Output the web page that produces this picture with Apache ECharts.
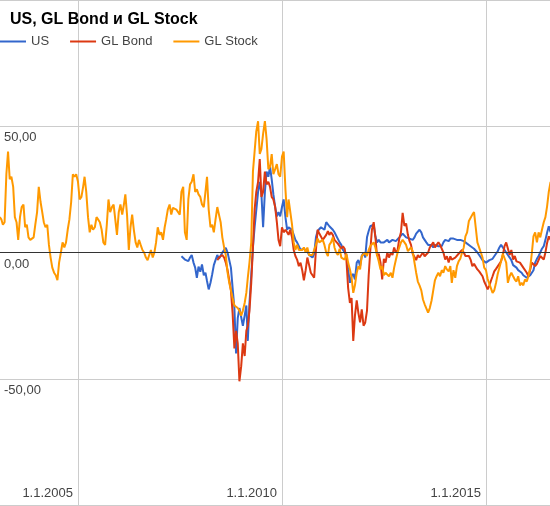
<!DOCTYPE html>
<html><head><meta charset="utf-8">
<script src="https://cdn.jsdelivr.net/npm/echarts@6/dist/echarts.min.js"></script>
<style>html,body{margin:0;padding:0;background:#fff}#c{width:550px;height:506px}</style>
</head><body><div id="c"></div>
<script>
const titleText = 'US, GL Bond и GL Stock';
const seriesNames = ['US', 'GL Bond', 'GL Stock'];
const seriesColors = ['#3366cc', '#dc3912', '#ff9900'];
const xTickDates = ['2005-01-01', '2010-01-01', '2015-01-01'];
const xRange = ['2003-02-03', '2016-07-27'];
const yTicks = [-50, 0, 50];

// semi-monthly observations (1st and 16th of each month), start = [year, month, day]
const usStart = [2007, 7, 16];
const bondStart = [2008, 6, 1];
const stockStart = [2003, 2, 1];

const usValues = [
  -1.5, -2, -2.8, -3, -3.4, -2, -1, -4, -6, -10,
  -5.6, -7.6, -4.7, -9, -8, -11.3, -14.6, -12, -8.7, -5,
  -3, -1, -2.5, -3, 0, 1, 1.8, 0, 0, -6,
  -14, -22, -40, -26, -22, -21.8, -29, -25, -21, -35,
  -20, -9, 2, 10, 10, 24, 28, 23, 10, 24,
  32, 30, 34, 29, 23, 18, 14.3, 16, 14.3, 18,
  21, 14, 9, 10, 10, 9, 7, 5, 4, 2.5,
  1, 1.5, 1.5, 1, 0.5, -1, -1, -2, -0.5, 6,
  8.5, 9, 10, 10.5, 9, 12, 12.5, 10.4, 10, 9,
  8, 7.8, 5.4, 4, 3, 1, 1, -1, -6.7, -12,
  -9.4, -8.5, -10.7, -4, -3, -5.4, -1.4, 0, -2, 6,
  8.5, 10.4, 9.8, 11, 6.4, 4, 5, 4, 4.5, 4,
  4, 5, 4, 4.5, 5, 5.5, 4.5, 5, 6, 6,
  7.5, 7, 6, 6.5, 5.5, 6, 5, 6, 7.5, 8,
  9, 8, 6, 5, 4, 3, 2.5, 3, 2, 3,
  3.5, 2.5, 3, 2.5, 4, 5, 5.5, 4.5, 5.5, 5,
  5.5, 6, 5, 5.5, 5, 5, 4.5, 4, 3.5, 3,
  2.5, 2, 1.5, 1, 0, -1, -2, -3, -3.5, -4,
  -4.5, -3, -2.5, -2.5, -1.5, -1, 0.5, 2, 3, 3.2,
  1, 0, -1, -2, -3, -5, -5, -6, -7, -7.5,
  -8, -9, -9.4, -10, -10.7, -9, -9.4, -7, -4, -2.5,
  -1.4, 0, 1.5, 2.5, 5, 7.8, 10.4, 8
];
const bondValues = [
  -3, -2, -2, -1, -2, -4, -7, -11, -15, -24,
  -38, -31, -36, -51, -45, -36, -41, -31, -29, -23,
  -12, 2, 17, 24, 28, 37, 22, 24, 32, 27,
  28, 26, 22, 21, 18, 12, 5, 2.5, 10, 8,
  9, 8, 7, 9, 6, 1, -1.4, -2.8, -5.4, -4,
  -7, -11, -7, -2, -5, -8, -9, -10, 1, 9,
  7.5, 8, 5, 5, 7, 8.5, 7, 8, 7, 5,
  5.5, 3.5, 2.5, 1.5, 2.5, 1.5, -3, -14, -20, -18,
  -35, -25, -19, -24, -27.7, -22.5, -29, -27.8, -23, -9,
  0.5, 9, 12, 6, -1.4, -0.5, -4, -10.7, -2.5, -4,
  0, -2, 0, -1, 2, 0, 1, 5.5, 8, 15.7,
  10.5, 11.5, 7, 4.5, 3, -0.5, -1, -3, -1, -2,
  -1.5, 0, -1.5, -1, 0, 2, 2.5, 4, 2, 3,
  4, 3, 2.5, 0, -2.8, -1.5, -4, -1.5, -2.8, -3,
  -2, -2, -0.5, 0, 1, 0, -1.4, -2, -1.4, -2.8,
  -5.4, -4.5, -4, -6.7, -7.5, -8, -9.4, -11.5, -13, -14.6,
  -13, -11, -9.4, -7.5, -6.5, -5.5, -4.5, -3.5, -1, 2.5,
  4, 4, -1, 1, -2.8, -1.4, -3.5, -2.8, -4, -5,
  -6, -6.7, -8, -9.4, -6.7, -4, -4.5, -5.4, -4.5, -4,
  -1.4, -1.4, -2.8, 0, 3.8, 6.4, 5
];
const stockValues = [
  14, 13, 11, 12, 31, 40, 29, 30, 26, 14,
  12, 5, 14, 18, 19, 10, 11, 6, 5, 4.5,
  6, 11, 16, 26, 20, 16, 12, 10, 11, 3,
  -2, -6, -8, -9, -11, -4, 0, 4, 2, 4,
  9, 13, 20, 31, 30, 31, 28, 21, 22, 26,
  30, 24, 14, 8, 11, 9, 10, 14, 13, 12,
  9, 4, 3, 11, 21, 16, 18, 19, 13, 7,
  16, 19, 15, 19, 23, 15, 1, 10, 15, 9,
  4, 2, 5, 3, 1, 0, -2, -3, -1, 1,
  -2, 0, 4, 10, 7, 8, 5, 10, 13, 17,
  19, 15, 17.7, 18, 17, 17.7, 15, 24, 26, 8,
  5, 21, 27, 28, 31, 24, 25, 23, 22, 19,
  18, 24, 30, 17, 10, 11, 8, 13, 18, 15,
  12, 6, 2, -1, -8, -12, -15, -18, -21, -21.5,
  -22, -23, -25, -23, -20, -16, -10, -4, 4, 32,
  40, 48, 52, 39, 41, 47, 52, 45, 33, 34,
  39, 31, 33, 35, 31, 30, 38, 40, 25, 14,
  21, 21, 11, 4, 1, 3, 1, 1, 1, 2,
  0, 2, -1, -1.4, -1, 1, 3, 5.5, 4, 4,
  5, 3, 0, -1.4, 3, 4, 6, 2, 0, -1,
  1.5, -2, -1.4, -2.8, -0.5, -4, -6.7, -10, -16, -13,
  -8, -5.4, -6.7, -1.4, -1.4, 0, -1.4, 1, 2.5, 2.5,
  4, 2, -1, -3.5, -6.7, -5.4, -9, -8, -8.7, -9.4,
  -8, -10, -6, -3, 0, 2, 4, 5, 4, 3,
  0.5, 0.5, 2, 0.5, -4, -8, -11.5, -13, -15, -18.6,
  -20.5, -20.5, -23.8, -22, -19, -15, -11, -9.4, -8, -9.4,
  -7, -8, -5.4, -6.7, -7.5, -5.4, -12, -7, -10, -5.4,
  -3.5, -2.5, 0, 2, 6.4, 8, 12.5, 13, 15, 16,
  10, 4, 4, 0, -2, -6, -7, -10.5, -12.5, -12,
  -16, -15, -12, -8.5, -6, -3.5, -0.5, -1, -4, -12,
  -9.4, -8, -9.4, -10.7, -11.5, -9.4, -13, -12, -13, -10.7,
  -11.5, -9.4, -6, 0, 6.4, 8, 4, 8, 6, 9,
  12, 14, 18.3, 24, 28
];

function ts(s) { const p = s.split('-').map(Number); return Date.UTC(p[0], p[1] - 1, p[2]); }
function semiMonthly(start, values) {
  const h0 = start[2] >= 16 ? 1 : 0;
  return values.map((v, k) => {
    const h = h0 + k;
    return [Date.UTC(start[0], start[1] - 1 + Math.floor(h / 2), h % 2 ? 16 : 1), v];
  });
}
const font = 'Arial, "Liberation Sans", sans-serif';
const tickVals = xTickDates.map(ts);

const chart = echarts.init(document.getElementById('c'), null, { renderer: 'canvas' });
chart.setOption({
  animation: false,
  backgroundColor: '#fff',
  color: seriesColors,
  title: {
    text: titleText, left: 10, top: 12, padding: 0,
    textStyle: { fontFamily: font, fontSize: 16, fontWeight: 'bold', color: '#000' }
  },
  legend: {
    data: seriesNames, left: 0, top: 35, padding: 0, itemGap: 21,
    itemWidth: 26, itemHeight: 2, icon: 'rect',
    textStyle: { fontFamily: font, fontSize: 13, color: '#444' }
  },
  grid: { left: 0, right: 0, top: 0, bottom: 1, containLabel: false },
  xAxis: {
    type: 'value', min: ts(xRange[0]), max: ts(xRange[1]),
    axisLine: { show: false },
    axisTick: { show: false, customValues: tickVals },
    axisLabel: {
      customValues: tickVals, inside: true, align: 'right', verticalAlign: 'bottom',
      margin: 5, padding: [0, 5, 0, 0], color: '#444', fontFamily: font, fontSize: 13,
      formatter: function (v) { const d = new Date(v); return d.getUTCDate() + '.' + (d.getUTCMonth() + 1) + '.' + d.getUTCFullYear(); }
    },
    splitLine: { show: true, lineStyle: { color: '#ccc', width: 1 } }
  },
  yAxis: {
    type: 'value', min: -100, max: 100, interval: 50,
    axisLine: { show: false }, axisTick: { show: false },
    axisLabel: {
      inside: true, margin: 4, verticalAlign: 'top', padding: [5, 0, 0, 0],
      color: '#444', fontFamily: font, fontSize: 13,
      formatter: function (v) { return yTicks.indexOf(v) >= 0 ? v.toFixed(2).replace('.', ',') : ''; }
    },
    splitLine: { lineStyle: { color: '#ccc', width: 1 } }
  },
  series: [
    { name: seriesNames[0], type: 'line', data: semiMonthly(usStart, usValues), showSymbol: false, symbol: 'none', lineStyle: { width: 2 } },
    { name: seriesNames[1], type: 'line', data: semiMonthly(bondStart, bondValues), showSymbol: false, symbol: 'none', lineStyle: { width: 2 } },
    { name: seriesNames[2], type: 'line', data: semiMonthly(stockStart, stockValues), showSymbol: false, symbol: 'none', lineStyle: { width: 2 },
      markLine: { silent: true, symbol: 'none', label: { show: false }, lineStyle: { color: '#333', width: 1, type: 'solid' }, data: [{ yAxis: 0 }] } }
  ]
});
</script></body></html>
